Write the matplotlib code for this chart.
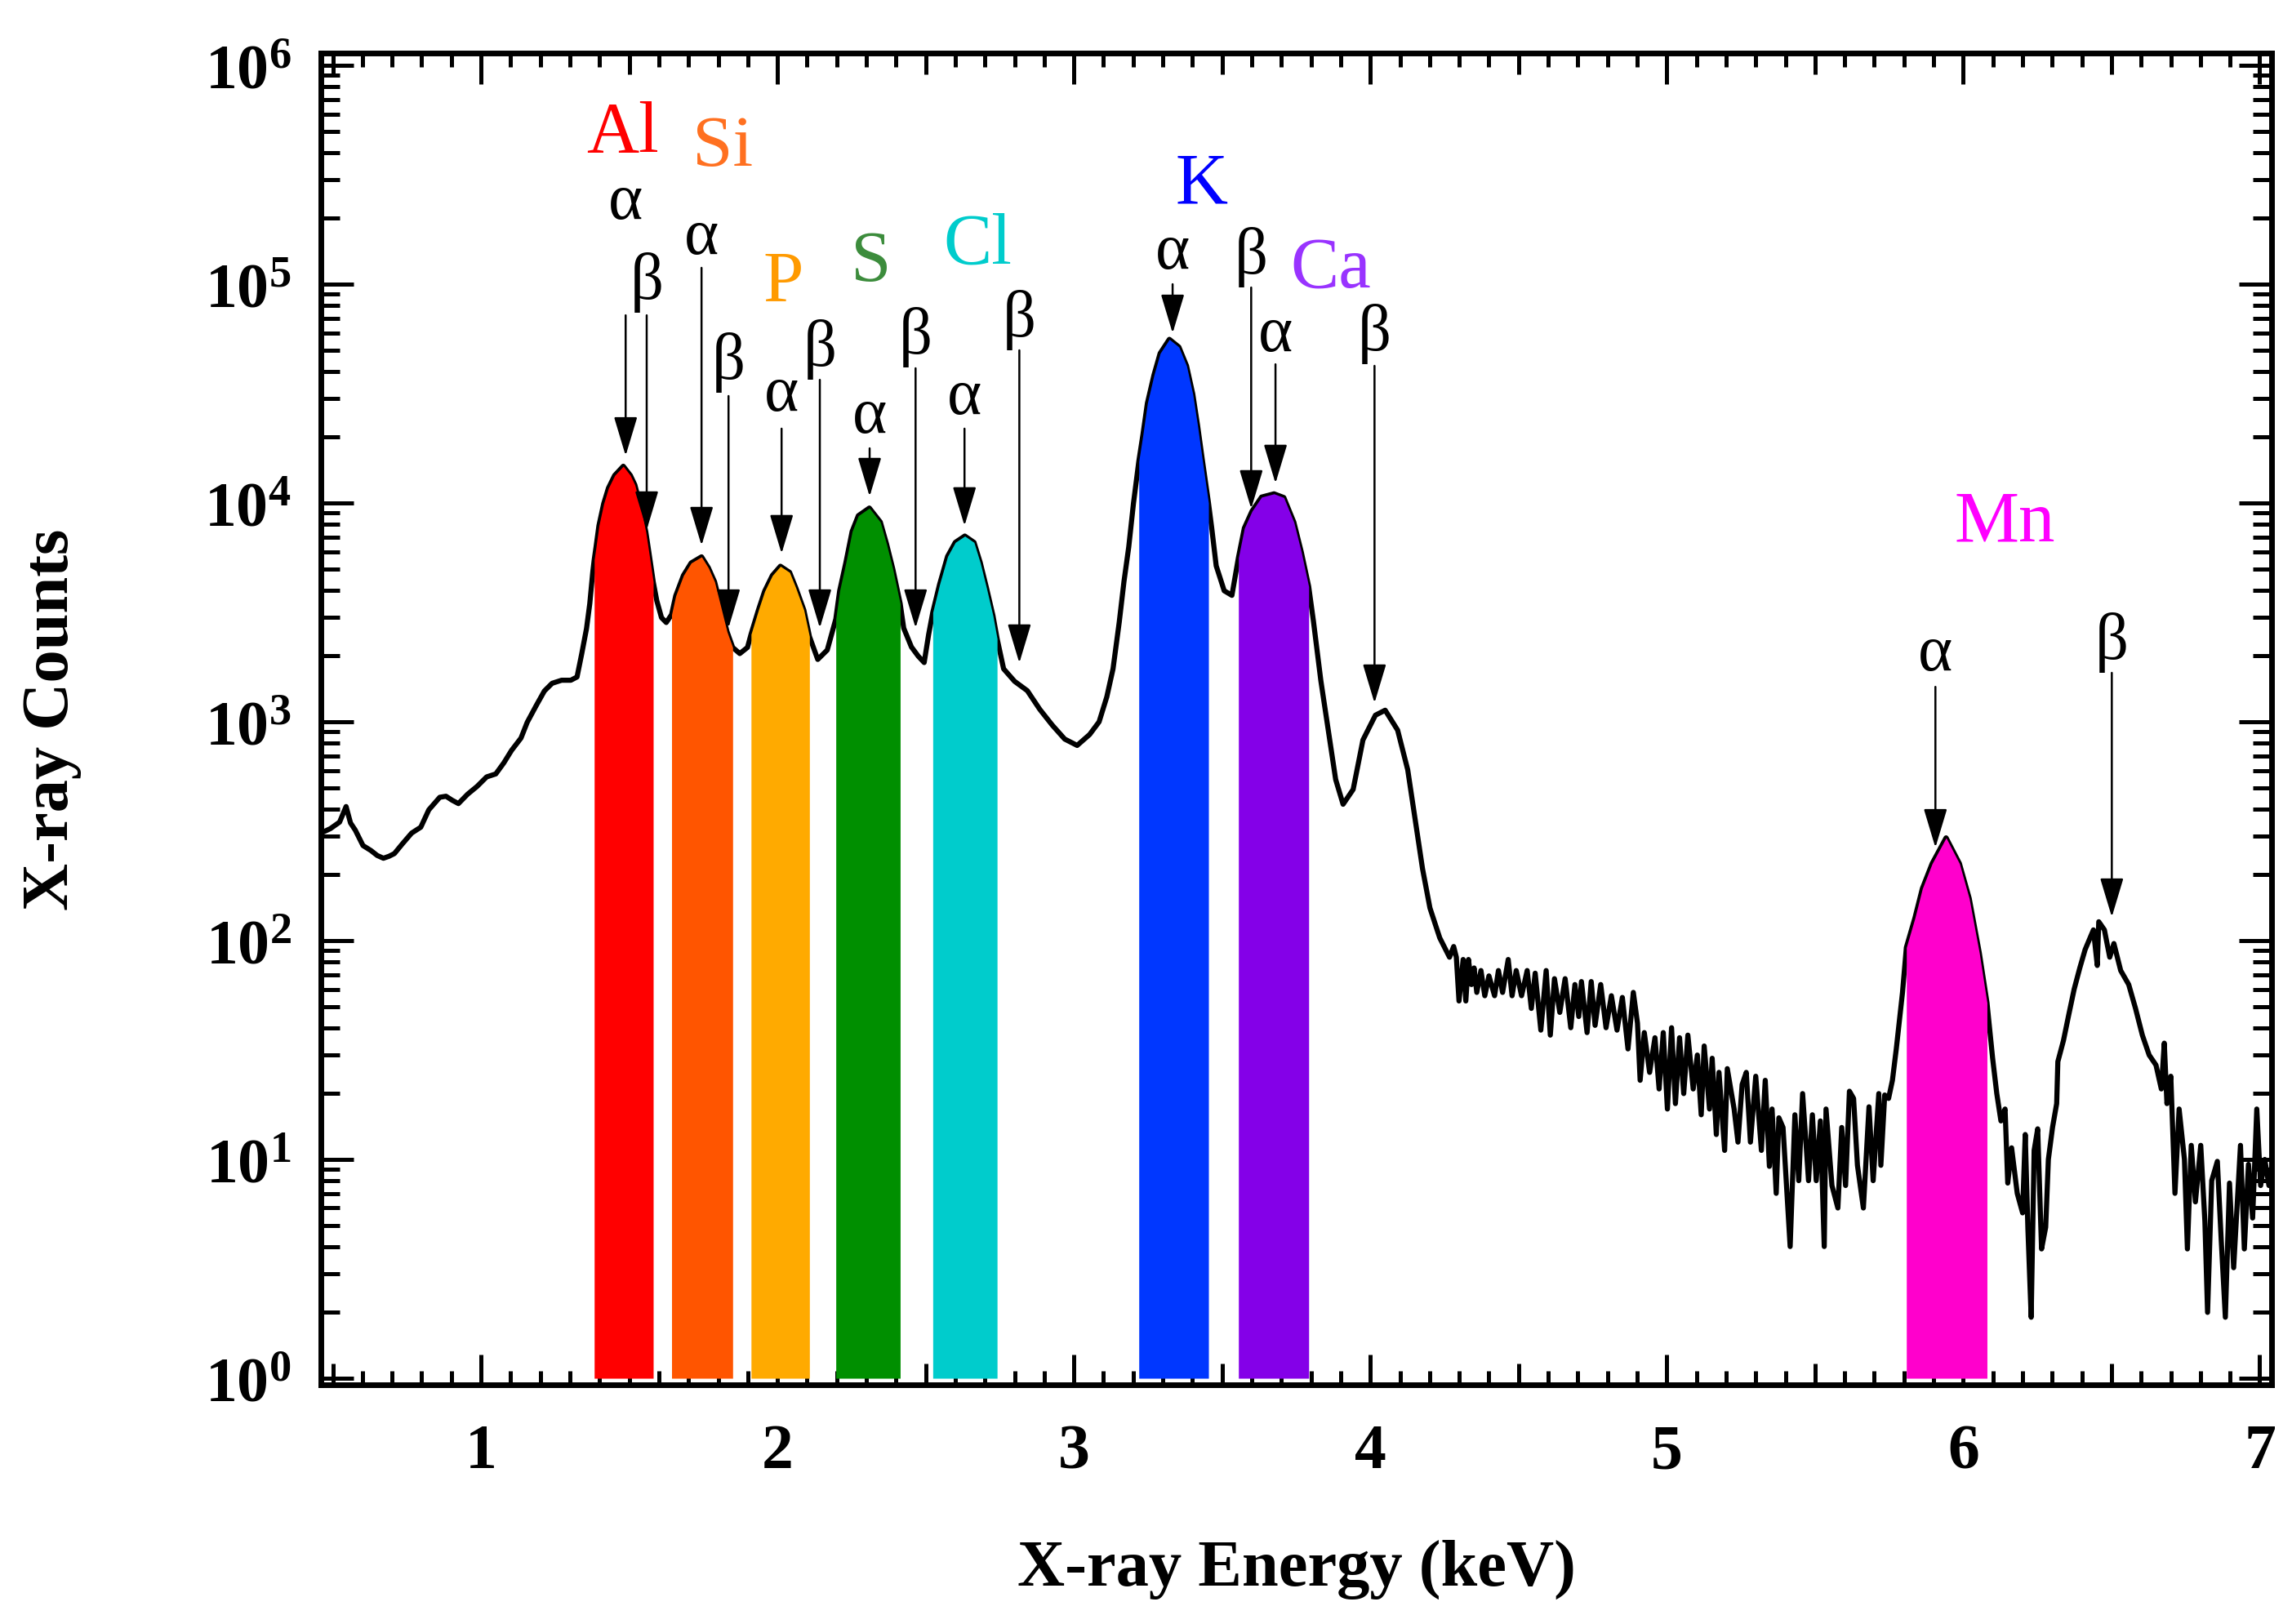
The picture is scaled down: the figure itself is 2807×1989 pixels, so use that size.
import numpy as np
import matplotlib.pyplot as plt
from matplotlib.ticker import (FixedLocator, MultipleLocator, NullFormatter,
                               FuncFormatter)

# spectrum (energy in keV, counts)
energy = [0.46, 0.492, 0.523, 0.545, 0.56, 0.576, 0.602, 0.629, 0.650, 0.671,
          0.69, 0.708, 0.734, 0.766, 0.797, 0.824, 0.861, 0.882, 0.903, 0.924,
          0.955, 0.987, 1.019, 1.050, 1.077, 1.103, 1.135, 1.156, 1.187, 1.214,
          1.240, 1.272, 1.303, 1.324, 1.340, 1.356, 1.367, 1.377, 1.382, 1.388,
          1.398, 1.414, 1.430, 1.451, 1.480, 1.504, 1.519, 1.541, 1.556, 1.567,
          1.581, 1.593, 1.609, 1.625, 1.643, 1.657, 1.683, 1.709, 1.744, 1.767,
          1.788, 1.809, 1.830, 1.849, 1.873, 1.899, 1.911, 1.936, 1.957, 1.983,
          2.010, 2.041, 2.062, 2.089, 2.108, 2.136, 2.168, 2.197, 2.210, 2.231,
          2.252, 2.273, 2.310, 2.347, 2.368, 2.389, 2.414, 2.426, 2.452, 2.475,
          2.495, 2.510, 2.524, 2.547, 2.574, 2.600, 2.632, 2.663, 2.684, 2.705,
          2.727, 2.741, 2.763, 2.800, 2.843, 2.885, 2.927, 2.969, 3.011, 3.053,
          3.085, 3.111, 3.132, 3.153, 3.169, 3.185, 3.201, 3.219, 3.233, 3.248,
          3.270, 3.291, 3.322, 3.354, 3.380, 3.401, 3.417, 3.433, 3.454, 3.465,
          3.480, 3.507, 3.533, 3.555, 3.575, 3.601, 3.633, 3.675, 3.708, 3.742,
          3.767, 3.792, 3.808, 3.833, 3.858, 3.883, 3.908, 3.942, 3.975, 4.017,
          4.050, 4.092, 4.126, 4.151, 4.176, 4.201, 4.234, 4.267, 4.281, 4.290,
          4.299, 4.313, 4.322, 4.331, 4.341, 4.350, 4.359, 4.373, 4.386, 4.400,
          4.419, 4.432, 4.446, 4.465, 4.478, 4.492, 4.510, 4.529, 4.543, 4.556,
          4.575, 4.593, 4.607, 4.621, 4.639, 4.657, 4.676, 4.690, 4.703, 4.712,
          4.731, 4.745, 4.758, 4.777, 4.795, 4.813, 4.832, 4.850, 4.869, 4.887,
          4.901, 4.910, 4.924, 4.942, 4.960, 4.974, 4.988, 5.002, 5.016, 5.029,
          5.043, 5.057, 5.071, 5.089, 5.103, 5.116, 5.126, 5.144, 5.153, 5.167,
          5.176, 5.195, 5.204, 5.227, 5.240, 5.254, 5.268, 5.282, 5.300, 5.319,
          5.332, 5.346, 5.355, 5.369, 5.378, 5.392, 5.416, 5.432, 5.445, 5.458,
          5.478, 5.491, 5.504, 5.518, 5.531, 5.537, 5.557, 5.577, 5.590, 5.603,
          5.616, 5.630, 5.643, 5.663, 5.682, 5.696, 5.715, 5.722, 5.735, 5.748,
          5.761, 5.774, 5.795, 5.808, 5.837, 5.862, 5.895, 5.942, 5.987, 6.020,
          6.054, 6.080, 6.099, 6.113, 6.127, 6.141, 6.150, 6.163, 6.182, 6.200,
          6.209, 6.218, 6.229, 6.239, 6.251, 6.264, 6.278, 6.287, 6.301, 6.315,
          6.319, 6.338, 6.356, 6.374, 6.393, 6.411, 6.439, 6.452, 6.457, 6.476,
          6.494, 6.508, 6.531, 6.558, 6.581, 6.604, 6.627, 6.650, 6.668, 6.678,
          6.687, 6.700, 6.714, 6.728, 6.746, 6.756, 6.769, 6.783, 6.801, 6.815,
          6.824, 6.838, 6.857, 6.870, 6.884, 6.898, 6.912, 6.935, 6.948, 6.962,
          6.976, 6.990, 7.003, 7.017, 7.031, 7.04]
counts = [310, 325, 348, 410, 345, 320, 272, 258, 245, 238,
          243, 250, 276, 310, 330, 396, 452, 457, 438, 423,
          467, 507, 560, 578, 649, 740, 843, 995, 1191, 1384,
          1500, 1549, 1549, 1603, 2051, 2667, 3467, 4819, 5500, 6266,
          7889, 9931, 11695, 13366, 14723, 13366, 12106, 9290, 7379, 5875,
          4365, 3581, 2992, 2844, 3090, 3767, 4667, 5321, 5675, 5058,
          4365, 3357, 2582, 2188, 2051, 2188, 2512, 3243, 3954, 4667,
          5140, 4819, 4093, 3243, 2455, 1928, 2128, 2951, 3972, 5346,
          7413, 8750, 9484, 8185, 6501, 5000, 3467, 2679, 2198, 1995,
          1866, 2506, 3162, 4246, 5702, 6607, 7063, 6607, 5346, 4102,
          3055, 2399, 1746, 1531, 1387, 1140, 966, 834, 780, 875,
          1000, 1300, 1746, 2858, 4385, 6295, 9977, 15488, 20560, 28576,
          38371, 48306, 55976, 51642, 42364, 31477, 22699, 15812, 10000, 7674,
          5164, 3972, 3784, 5623, 7674, 9183, 10641, 11015, 10593, 8166,
          5970, 4150, 2884, 1542, 916, 545, 420, 491, 826, 1072,
          1130, 916, 604, 359, 213, 141, 103, 84, 94, 84,
          53, 82, 53, 82, 63, 75, 58, 73, 56, 69,
          56, 73, 58, 82, 56, 73, 56, 73, 49, 71,
          39, 73, 37, 67, 47, 67, 40, 63, 45, 65,
          38, 65, 41, 63, 40, 56, 39, 55, 32, 58,
          42, 23, 38, 25, 36, 21, 38, 17, 40, 18,
          36, 20, 37, 21, 30, 16, 33, 17, 29, 13,
          25, 11, 26, 17, 12, 22, 25, 12, 24, 11,
          23, 9.3, 17, 7.0, 15.5, 14, 4.0, 16, 8, 20,
          8.0, 16, 8, 15, 4.0, 17, 7.6, 6.0, 14, 7.6,
          20.5, 19, 9.4, 6.0, 17.4, 8, 20, 9.4, 19.7, 19,
          23, 32, 58, 93, 127, 173, 225, 295, 225, 156,
          88, 52, 29, 20, 15, 17, 7.8, 11.3, 7, 5.7,
          13, 4.8, 1.9, 11, 13.8, 3.9, 4.9, 10, 14, 18,
          28, 35, 46, 60, 75, 91, 112, 77, 122, 112,
          84, 97, 73, 63, 49, 37, 30, 27, 21, 34,
          18, 24, 7, 17, 10, 3.9, 11.6, 6.4, 11.6, 5.2,
          2.0, 8, 9.8, 4.3, 1.9, 7.8, 3.2, 11.6, 3.9, 9.5,
          5.4, 17, 7.6, 10, 7.6, 9]

# shaded K-alpha windows
elements = ['Al', 'Si', 'P', 'S', 'Cl', 'K', 'Ca', 'Mn']
band_lo = [1.382, 1.643, 1.911, 2.197, 2.524, 3.219, 3.555, 5.808]
band_hi = [1.581, 1.849, 2.108, 2.414, 2.741, 3.454, 3.792, 6.080]
fill_colors = ['#ff0000', '#ff5500', '#ffaa00', '#008f00', '#00cccc',
               '#0037ff', '#8400e8', '#ff00cc']
label_colors = ['#ff0000', '#ff7020', '#ff9a00', '#3c8c3c', '#00cccc',
                '#0000ff', '#9933ff', '#ff00ff']
# element label placement (keV, log10 counts)
label_pos = [(1.477, 5.687), (1.815, 5.627), (2.019, 5.011), (2.317, 5.101),
             (2.675, 5.179), (3.430, 5.455), (3.865, 5.071), (6.140, 3.910)]

# line markers: symbol, energy, text log10, arrow top log10, arrow tip log10
lines = [('α', 1.488, 5.377, 4.858, 4.216),
         ('β', 1.559, 5.011, 4.858, 3.877),
         ('α', 1.744, 5.216, 5.075, 3.806),
         ('β', 1.835, 4.646, 4.489, 3.429),
         ('α', 2.014, 4.500, 4.340, 3.769),
         ('β', 2.143, 4.705, 4.563, 3.429),
         ('α', 2.311, 4.396, 4.250, 4.030),
         ('β', 2.466, 4.761, 4.616, 3.429),
         ('α', 2.631, 4.485, 4.340, 3.896),
         ('β', 2.816, 4.840, 4.698, 3.269),
         ('α', 3.333, 5.146, 5.000, 4.776),
         ('β', 3.598, 5.127, 4.985, 3.974),
         ('α', 3.680, 4.769, 4.634, 4.090),
         ('β', 4.014, 4.776, 4.627, 3.086),
         ('α', 5.906, 3.310, 3.160, 2.425),
         ('β', 6.501, 3.366, 3.224, 2.108)]

decades = [0, 1, 2, 3, 4, 5, 6]

plt.rcParams['font.family'] = ['Liberation Serif', 'DejaVu Serif']
plt.rcParams['font.weight'] = 'bold'
plt.rcParams['mathtext.fontset'] = 'custom'
plt.rcParams['mathtext.rm'] = 'Liberation Serif'
plt.rcParams['mathtext.bf'] = 'Liberation Serif:bold'

fig = plt.figure(figsize=(28.07, 19.90), dpi=100)
ax = fig.add_axes([0.140, 0.1472, 0.8511, 0.8196])

e = np.array(energy)
c = np.array(counts, dtype=float)

ax.plot(e, c, color='black', lw=4.5, zorder=2)
for lo, hi, col in zip(band_lo, band_hi, fill_colors):
    m = (e >= lo - 1e-9) & (e <= hi + 1e-9)
    ax.fill_between(e[m], 1, c[m], color=col, lw=0, zorder=3)

for name, (px, py), col in zip(elements, label_pos, label_colors):
    ax.text(px, 10 ** py, name, color=col, fontsize=64, weight='normal',
            ha='center', va='center', zorder=6)

for sym, x, ty, top, tip in lines:
    ax.text(x, 10 ** ty, sym, fontsize=58, weight='normal',
            ha='center', va='center', zorder=6)
    ax.annotate('', xy=(x, 10 ** tip), xytext=(x, 10 ** top),
                arrowprops=dict(arrowstyle='-|>,head_length=3.0,head_width=0.9',
                                mutation_scale=10, lw=1.8, color='black',
                                shrinkA=0, shrinkB=0), zorder=5)

ax.set_yscale('log')
ax.set_xlim(0.46, 7.04)
ax.set_ylim(10 ** -0.03, 10 ** 6.056)

# majors every 0.5 keV, labelled only on whole numbers
ax.xaxis.set_major_locator(MultipleLocator(0.5))
ax.xaxis.set_minor_locator(MultipleLocator(0.1))
ax.xaxis.set_major_formatter(FuncFormatter(
    lambda v, p: '%d' % round(v) if abs(v - round(v)) < 1e-6 else ''))

# only the decades that are inside the frame
ax.yaxis.set_major_locator(FixedLocator([10.0 ** d for d in decades]))
ax.yaxis.set_minor_locator(FixedLocator(
    [k * 10.0 ** d for d in decades[:-1] for k in range(2, 10)]))
ax.yaxis.set_minor_formatter(NullFormatter())
ax.yaxis.set_major_formatter(FuncFormatter(
    lambda v, p: r'$\mathbf{10^{%d}}$' % round(np.log10(v))))

ax.tick_params(axis='x', which='major', direction='in', length=27, width=3.6,
               top=True, bottom=True, pad=34, labelsize=56)
ax.tick_params(axis='x', which='minor', direction='in', length=12, width=3.6,
               top=True, bottom=True)
ax.tick_params(axis='y', which='major', direction='in', length=29, width=3.6,
               left=True, right=True, pad=26, labelsize=56)
ax.tick_params(axis='y', which='minor', direction='in', length=16.5, width=3.6,
               left=True, right=True)
for sp in ax.spines.values():
    sp.set_linewidth(5)

# half keV ticks a bit shorter than the whole keV ones
xlocs = ax.xaxis.get_majorticklocs()
for loc, tick in zip(xlocs, ax.xaxis.get_major_ticks(len(xlocs))):
    if abs(loc - round(loc)) > 1e-6:
        tick.tick1line.set_markersize(19)
        tick.tick2line.set_markersize(19)

ax.set_xlabel('X-ray Energy (keV)', fontsize=58, weight='bold', va='center')
ax.xaxis.set_label_coords(0.5, -0.138)
ax.set_ylabel('X-ray Counts', fontsize=58, weight='bold', va='center')
ax.yaxis.set_label_coords(-0.138, 0.5)

fig.savefig('out.png', dpi=100)
